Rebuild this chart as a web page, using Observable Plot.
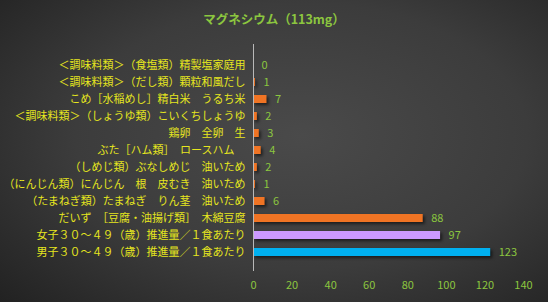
<!DOCTYPE html>
<html>
<head>
<meta charset="utf-8">
<script src="https://cdn.jsdelivr.net/npm/d3@7"></script>
<script src="https://cdn.jsdelivr.net/npm/@observablehq/plot@0.6"></script>
<style>
  html, body { margin: 0; padding: 0; }
  #wrap {
    position: relative; width: 548px; height: 302px; overflow: hidden;
    background: radial-gradient(ellipse 75% 80% at 55% 45%, #4a4a4a 0%, #3c3c3c 55%, #222 100%);
    font-family: "Noto Sans CJK JP", sans-serif;
  }
  #title {
    position: absolute; left: 0; top: 9px; width: 548px; text-align: center;
    color: #8cc63f; font-size: 12.5px; font-weight: bold;
  }
  #chart { position: absolute; left: 0; top: 0; }
</style>
</head>
<body>
<div id="wrap">
  <div id="title">マグネシウム（113mg）</div>
  <div id="chart"></div>
</div>
<script>
const categories = [
  "＜調味料類＞（食塩類）精製塩家庭用",
  "＜調味料類＞（だし類）顆粒和風だし",
  "こめ［水稲めし］精白米　うるち米",
  "＜調味料類＞（しょうゆ類）こいくちしょうゆ",
  "鶏卵　全卵　生",
  "ぶた［ハム類］　ロースハム　",
  "（しめじ類）ぶなしめじ　油いため",
  "（にんじん類）にんじん　根　皮むき　油いため",
  "（たまねぎ類）たまねぎ　りん茎　油いため",
  "だいず　［豆腐・油揚げ類］　木綿豆腐",
  "女子３０～４９（歳）推進量／１食あたり",
  "男子３０～４９（歳）推進量／１食あたり"
];
const values = [0, 1, 7, 2, 3, 4, 2, 1, 6, 88, 97, 123];
const colors = ["#f07424","#f07424","#f07424","#f07424","#f07424","#f07424","#f07424","#f07424","#f07424","#f07424","#cc99ff","#00b0f0"];
const xTicks = [0, 20, 40, 60, 80, 100, 120, 140];

const data = categories.map((c, i) => ({name: c, value: values[i], color: colors[i]}));

const plot = Plot.plot({
  width: 548,
  height: 302,
  marginLeft: 253,
  marginRight: 25,
  marginTop: 46,
  marginBottom: 31,
  style: {background: "transparent", fontFamily: "'Noto Sans CJK JP', sans-serif", fontSize: "11px", overflow: "visible"},
  x: {domain: [0, 140], ticks: xTicks, label: null},
  y: {domain: categories, padding: 0.55, label: null},
  marks: [
    Plot.gridX(xTicks.slice(1), {stroke: "#6a6a6a", strokeOpacity: 1, strokeWidth: 1, y1: 0, y2: 0, insetTop: -2}),
    Plot.axisX({ticks: xTicks, tickSize: 0, tickPadding: 10, fill: "#8cc63f", fontSize: 11, label: null}),
    Plot.axisY({tickSize: 0, tickPadding: 8, fill: "#e6e61e", fontSize: 11, label: null}),
    Plot.barX(data, {y: "name", x: "value", fill: "color"}),
    Plot.ruleX([0], {stroke: "#b8b8b8", strokeWidth: 1, insetTop: -2}),
    Plot.text(data, {y: "name", x: "value", text: d => String(d.value), dx: 8, textAnchor: "start", fill: "#8cc63f", fontSize: 11})
  ]
});

d3.select(plot).selectAll("g[aria-label=bar] rect").style("filter", "drop-shadow(2px 2px 1.5px rgba(0,0,0,0.55))");
document.getElementById("chart").appendChild(plot);
</script>
</body>
</html>
